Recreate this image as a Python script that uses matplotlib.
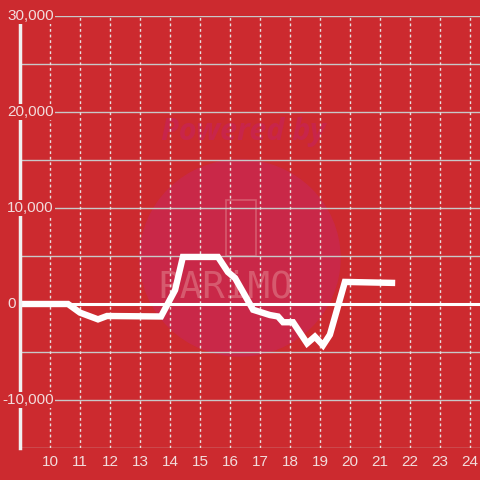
import matplotlib
matplotlib.use("Agg")
import matplotlib.pyplot as plt
from matplotlib.patches import Ellipse
import matplotlib.transforms as mtransforms

# datos (hora del dia, valor)
hours = [9.0, 10.6, 11.0, 11.6, 11.9, 13.7, 14.17, 14.43, 15.6, 15.93, 16.17,
         16.77, 17.33, 17.6, 17.77, 18.1, 18.57, 18.83, 19.1, 19.33, 19.83, 21.4]
values = [0, 0, -900, -1600, -1250, -1300, 1460, 4900, 4900, 3330, 2700,
          -600, -1150, -1300, -1900, -1900, -4100, -3400, -4300, -3200, 2300, 2200]

x_ticks = list(range(10, 25))
y_ticks = [30000, 20000, 10000, 0, -10000]
y_grid = list(range(-15000, 30001, 5000))

BG = "#CC2A2F"
TXT = "#F2DCDC"

plt.rcParams.update({"font.family": ["Liberation Sans", "DejaVu Sans"], "font.size": 10})

fig = plt.figure(figsize=(4.8, 4.8), dpi=100, facecolor=BG)
ax = fig.add_axes([20 / 480, 32 / 480, 460 / 480, 432 / 480])
ax.set_facecolor(BG)
ax.set_xlim(9, 9 + 460 / 30)
ax.set_ylim(-15000, 30000)

# marca de agua (coordenadas de figura, origen abajo)
ax.add_patch(Ellipse((240 / 480, 1 - 258 / 480), 200 / 480, 196 / 480,
                     transform=fig.transFigure, color="#C92848", zorder=0))
ax.text(243 / 480, 1 - 132 / 480, "Powered by", transform=fig.transFigure,
        color="#C8254A", fontsize=22, fontweight="bold", style="italic",
        family="Open Sans", ha="center", va="center", zorder=0.5)
ax.text(225 / 480, 1 - 288 / 480, "PARiMO", transform=fig.transFigure,
        color="#D65A6E", fontsize=27, family="DejaVu Sans Mono",
        ha="center", va="center", zorder=0.5)
ax.add_patch(plt.Rectangle((226 / 480, 1 - 256 / 480), 30 / 480, 56 / 480,
                           transform=fig.transFigure, fill=False,
                           edgecolor="#D65A6E", lw=1.2, zorder=0.5))

for v in y_grid:
    ax.axhline(v, color="#C8C8C8", lw=1, zorder=1)
for h in x_ticks:
    ax.axvline(h, color="#E8E0E0", lw=1, ls=(0, (2, 2)), zorder=1)
ax.axhline(0, color="white", lw=2.2, zorder=2)

ax.plot(hours, values, color="white", lw=4.6, solid_joinstyle="miter", zorder=3)

for s in ["top", "right", "bottom"]:
    ax.spines[s].set_visible(False)
ax.spines["left"].set_color("#F0F0F0")
ax.spines["left"].set_linewidth(2.5)
ax.spines["left"].set_bounds(-15000, 29200)
ax.spines["left"].set_zorder(4)

ax.set_yticks([])
ax.set_xticks(x_ticks)
ax.set_xticklabels([str(h) for h in x_ticks], color=TXT, fontsize=11)
ax.tick_params(axis="x", length=0, pad=5)

trans = mtransforms.blended_transform_factory(fig.transFigure, ax.transData)
for v in y_ticks:
    x0 = 2 if v < 0 else 7
    ax.text(x0 / 480, v, f"{v:,}", transform=trans, ha="left", va="center",
            color=TXT, fontsize=11, zorder=5,
            bbox=dict(facecolor=BG, edgecolor="none", pad=1))

fig.savefig("out.png", dpi=100, facecolor=BG)
